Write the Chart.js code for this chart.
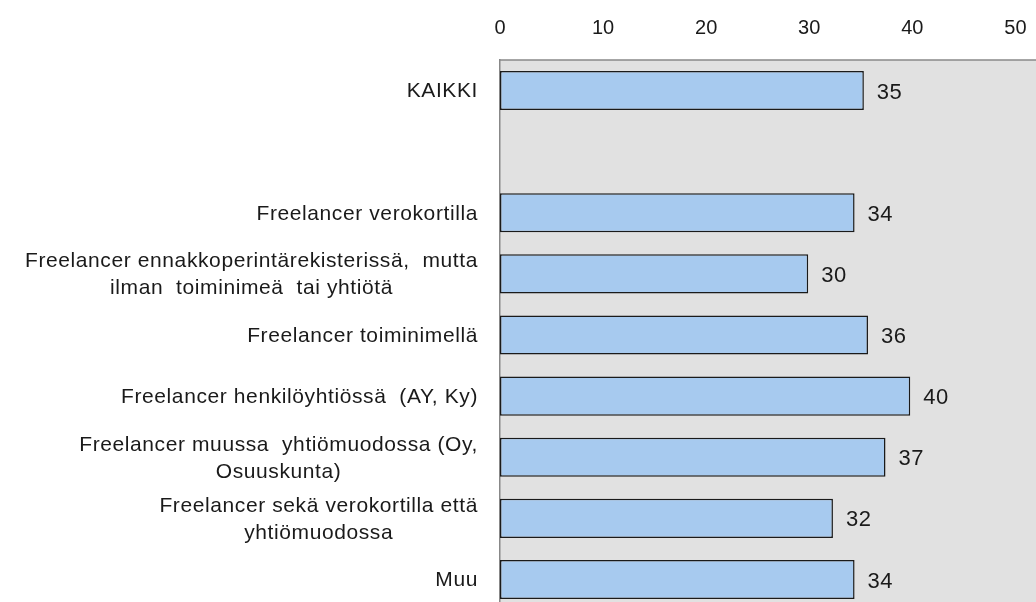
<!DOCTYPE html>
<html>
<head>
<meta charset="utf-8">
<script src="https://cdn.jsdelivr.net/npm/chart.js@4.4.1/dist/chart.umd.min.js"></script>
<style>
    html, body { margin: 0; padding: 0; background: #ffffff; overflow: hidden; }
    #chartDiv { position: absolute; left: 0; top: 0; width: 1036px; height: 610px; }
</style>
</head>
<body>
<div id="chartDiv"><canvas id="chart"></canvas></div>
<script>
// categories (multi-line ones split as in the original)
const categories = [
    ['KAIKKI'],
    [''],
    ['Freelancer verokortilla'],
    ['Freelancer ennakkoperintärekisterissä,  mutta', 'ilman  toiminimeä  tai yhtiötä'],
    ['Freelancer toiminimellä'],
    ['Freelancer henkilöyhtiössä  (AY, Ky)'],
    ['Freelancer muussa  yhtiömuodossa (Oy,', 'Osuuskunta)'],
    ['Freelancer sekä verokortilla että', 'yhtiömuodossa'],
    ['Muu']
];
// bar values (labels shown rounded)
const values = [35.3, null, 34.4, 29.9, 35.7, 39.8, 37.4, 32.3, 34.4];
const tickValues = [0, 10, 20, 30, 40, 50];

const fontName = '"Liberation Sans", Arial, sans-serif';

const backgroundPlugin = {
    id: 'plotBackground',
    beforeDraw(chart) {
        const { ctx, chartArea } = chart;
        ctx.save();
        ctx.fillStyle = '#e1e1e1';
        ctx.fillRect(chartArea.left, chartArea.top, chart.width - chartArea.left, chart.height - chartArea.top);
        ctx.strokeStyle = '#888888';
        ctx.lineWidth = 1.5;
        ctx.beginPath();
        ctx.moveTo(chartArea.left, chartArea.top);
        ctx.lineTo(chart.width, chartArea.top);
        ctx.stroke();
        ctx.restore();
    }
};

const categoryLabelPlugin = {
    id: 'categoryLabels',
    afterDraw(chart) {
        const { ctx } = chart;
        const yScale = chart.scales.y;
        const rightEdge = chart.chartArea.left - 22;
        const lineHeight = 27;
        ctx.save();
        ctx.font = '21px ' + fontName;
        ctx.letterSpacing = '0.6px';
        ctx.fillStyle = '#1a1a1a';
        ctx.textAlign = 'center';
        ctx.textBaseline = 'middle';
        categories.forEach((lines, i) => {
            const y = yScale.getPixelForTick(i);
            let w = 0;
            lines.forEach(l => { w = Math.max(w, ctx.measureText(l).width); });
            const cx = rightEdge - w / 2;
            const y0 = y - (lines.length - 1) * lineHeight / 2;
            lines.forEach((l, j) => ctx.fillText(l, cx, y0 + j * lineHeight + 1));
        });
        ctx.restore();
    }
};

const valueLabelPlugin = {
    id: 'valueLabels',
    afterDatasetsDraw(chart) {
        const { ctx } = chart;
        const meta = chart.getDatasetMeta(0);
        ctx.save();
        ctx.font = '22px ' + fontName;
        ctx.letterSpacing = '0.5px';
        ctx.fillStyle = '#1a1a1a';
        ctx.textAlign = 'left';
        ctx.textBaseline = 'middle';
        meta.data.forEach((bar, i) => {
            if (values[i] === null) return;
            ctx.fillText(String(Math.round(values[i])), bar.x + 13, bar.y + 2);
        });
        ctx.restore();
    }
};

const ctx = document.getElementById('chart').getContext('2d');
new Chart(ctx, {
    type: 'bar',
    data: {
        labels: categories,
        datasets: [{
            data: values,
            backgroundColor: '#a7caef',
            borderColor: '#1a1a1a',
            borderWidth: 1.5,
            borderSkipped: false,
            barPercentage: 0.8,
            categoryPercentage: 0.8
        }]
    },
    options: {
        indexAxis: 'y',
        responsive: true,
        maintainAspectRatio: false,
        animation: false,
        layout: { padding: 0 },
        plugins: {
            legend: { display: false },
            tooltip: { enabled: false }
        },
        scales: {
            x: {
                position: 'top',
                min: 0,
                max: 52,
                afterBuildTicks: (scale) => {
                    scale.ticks = tickValues.map(v => ({ value: v }));
                },
                afterFit: (scale) => {
                    scale.height = 60;
                    scale.paddingLeft = 0;
                    scale.paddingRight = 0;
                },
                grid: { display: false, drawTicks: false },
                border: { display: false },
                ticks: {
                    padding: 20,
                    color: '#1a1a1a',
                    font: { family: fontName, size: 20 }
                }
            },
            y: {
                afterFit: (scale) => { scale.width = 500; },
                grid: { display: false, drawTicks: false },
                border: { display: true, color: '#888888', width: 1.5 },
                ticks: { display: false }
            }
        }
    },
    plugins: [backgroundPlugin, categoryLabelPlugin, valueLabelPlugin]
});
</script>
</body>
</html>
